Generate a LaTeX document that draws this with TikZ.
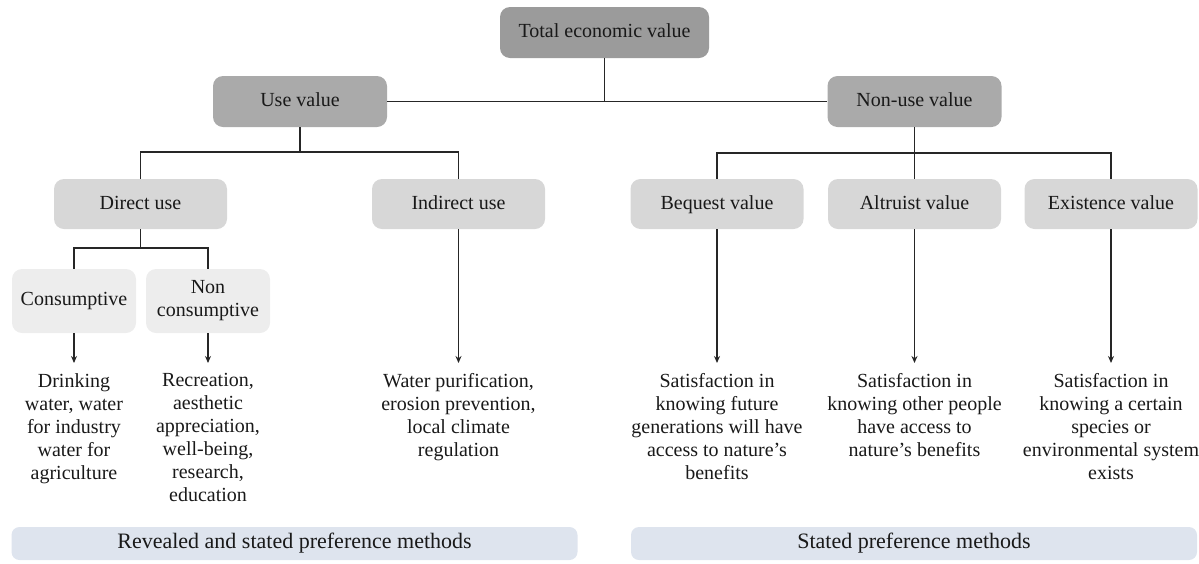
\documentclass[tikz,border=0pt]{standalone}
\usepackage{fontspec}
\setmainfont{Liberation Serif}
\usetikzlibrary{positioning}
\usetikzlibrary{arrows.meta,shapes}
\usetikzlibrary{calc}
\definecolor{topgray}{RGB}{155,155,155}
\definecolor{midgray}{RGB}{170,170,170}
\definecolor{subgray}{RGB}{215,215,215}
\definecolor{leafgray}{RGB}{237,237,237}
\definecolor{methodblue}{RGB}{222,228,238}
\definecolor{inkgray}{RGB}{25,25,25}
\tikzstyle{topbox}=[rectangle,rounded corners=5pt,fill=topgray,minimum width=104.5pt,minimum height=25.5pt,inner sep=0pt,text height=7pt,text depth=2pt]
\tikzstyle{midbox}=[rectangle,rounded corners=5pt,fill=midgray,minimum width=87pt,minimum height=25.5pt,inner sep=0pt,text height=7pt,text depth=2pt]
\tikzstyle{subbox}=[rectangle,rounded corners=5pt,fill=subgray,minimum width=86.5pt,minimum height=25pt,inner sep=0pt,text height=7pt,text depth=2pt]
\tikzstyle{leafbox}=[rectangle,rounded corners=5pt,fill=leafgray,minimum width=62pt,minimum height=32pt,inner sep=0pt,align=center]
\tikzstyle{methodbox}=[rectangle,rounded corners=4pt,fill=methodblue,minimum width=283pt,minimum height=16.5pt,inner sep=0pt,font=\fontsize{11}{13}\selectfont,text height=7.5pt,text depth=2.5pt]
\tikzstyle{desc}=[align=center,inner sep=0pt,anchor=north]
\tikzstyle{link} = [draw,line width=0.65pt,black!85]
\tikzstyle{arrowlink} = [link,-{Stealth[length=3.5pt,width=3pt]},shorten >=5pt]

\begin{document}
\begin{tikzpicture}[x=0.5pt,y=-0.5pt,font=\fontsize{10}{11.5}\selectfont,text=inkgray]

  \useasboundingbox (0,0) rectangle (1199,563);

  % top of the tree
  \node[topbox] (tev) at (604.5,32.5) {Total economic value};
  \foreach \x/\name/\label in {300/usev/Use value, 914.5/nonusev/Non-use value}
          \node[midbox] (\name) at (\x,101.5) {\label};

  % second level
  \foreach \x/\name/\label in {140.5/direct/Direct use, 458.5/indirect/Indirect use,
                               717/bequest/Bequest value, 914.5/altruist/Altruist value,
                               1111/existence/Existence value}
          \node[subbox] (\name) at (\x,204) {\label};

  % third level
  \node[leafbox] (cons) at (74,301) {Consumptive};
  \node[leafbox] (noncons) at (208,301) {Non\\consumptive};

  % descriptions
  \foreach \x/\name/\label in {74/drink/{Drinking\\water, water\\for industry\\water for\\agriculture},
                               208/recr/{Recreation,\\aesthetic\\appreciation,\\well-being,\\research,\\education},
                               458.5/purif/{Water purification,\\erosion prevention,\\local climate\\regulation},
                               717/future/{Satisfaction in\\knowing future\\generations will have\\access to nature’s\\benefits},
                               914.5/others/{Satisfaction in\\knowing other people\\have access to\\nature’s benefits},
                               1111/species/{Satisfaction in\\knowing a certain\\species or\\environmental system\\exists}}
          \node[desc] (\name) at (\x,373) {\label};

  % methods
  \node[methodbox] (revealed) at (294.5,543.5) {Revealed and stated preference methods};
  \node[methodbox] (stated) at (914,543.5) {Stated preference methods};

  % junctions
  \coordinate (uj) at (300,152);
  \coordinate (nj) at (914.5,153);
  \coordinate (dj) at (140.5,248);

  \draw[link] (usev.east) -- (nonusev.west);
  \draw[link] (tev.south) -- (tev.south |- usev.east);

  \draw[link] (usev.south) -- (uj);
  \draw[link] (direct.north) |- (uj) -| (indirect.north);

  \draw[link] (nonusev.south) -- (nj);
  \draw[link] (bequest.north) |- (nj) -| (existence.north);
  \draw[link] (altruist.north) -- (nj);

  \draw[link] (direct.south) -- (dj);
  \draw[link] (cons.north) |- (dj) -| (noncons.north);

  \foreach \source/ \dest in {cons/drink, noncons/recr, indirect/purif, bequest/future, altruist/others, existence/species}
         \draw[arrowlink] (\source.south) -- (\source.south |- \dest.north);

\end{tikzpicture}
\end{document}
